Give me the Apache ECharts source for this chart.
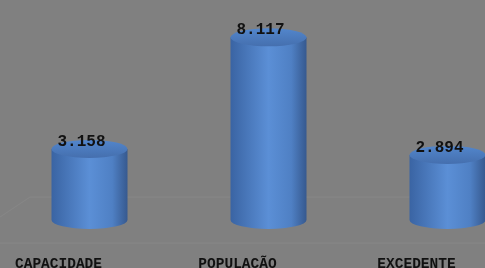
<!DOCTYPE html>
<html>
<head>
<meta charset="utf-8">
<script src="https://cdn.jsdelivr.net/npm/echarts@6/dist/echarts.min.js"></script>
<style>
  html, body { margin: 0; padding: 0; background: #808080; }
  #main { width: 485px; height: 268px; }
</style>
</head>
<body>
<div id="main"></div>
<script>
  const categories = ['CAPACIDADE', 'POPULAÇÃO', 'EXCEDENTE'];
  const values = [3.158, 8.117, 2.894];
  const valueLabels = ['3.158', '8.117', '2.894'];

  const myChart = echarts.init(document.getElementById('main'));

  // cylinder drawn from the axis coordinates of each value
  function renderCylinder(params, api) {
    const idx = api.value(0);
    const top = api.coord([idx, api.value(1)]);
    const base = api.coord([idx, 0]);
    const cx = top[0];
    const rx = 38, ry = 9;
    const l = cx - rx, r = cx + rx;
    const ty = top[1], by = base[1];

    return {
      type: 'group',
      children: [
        {
          type: 'path',
          shape: {
            pathData: 'M' + l + ' ' + ty + ' L' + l + ' ' + by +
              ' A' + rx + ' ' + ry + ' 0 0 0 ' + r + ' ' + by +
              ' L' + r + ' ' + ty + ' Z'
          },
          style: {
            fill: {
              type: 'linear', x: 0, y: 0, x2: 1, y2: 0,
              colorStops: [
                { offset: 0, color: '#3a64a3' },
                { offset: 0.5, color: '#5b8fd6' },
                { offset: 0.8, color: '#4f80c4' },
                { offset: 1, color: '#36598f' }
              ]
            }
          }
        },
        {
          type: 'path',
          shape: {
            pathData: 'M' + l + ' ' + ty +
              ' A' + rx + ' ' + ry + ' 0 0 1 ' + r + ' ' + ty +
              ' A' + rx + ' ' + ry + ' 0 0 1 ' + l + ' ' + ty + ' Z'
          },
          style: {
            fill: {
              type: 'linear', x: 0, y: 0, x2: 0, y2: 1,
              colorStops: [
                { offset: 0, color: '#5286cc' },
                { offset: 1, color: '#456fae' }
              ]
            }
          }
        },
        {
          type: 'text',
          style: {
            text: valueLabels[params.dataIndex],
            x: cx - 8,
            y: ty - 7,
            align: 'center',
            verticalAlign: 'middle',
            fill: '#111',
            font: 'bold 16px "Liberation Mono", "Courier New", monospace'
          }
        }
      ]
    };
  }

  const option = {
    backgroundColor: '#808080',
    animation: false,
    grid: { left: 0, right: -52, top: 17.5, bottom: 48, outerBoundsMode: 'none' },
    xAxis: {
      type: 'category',
      data: categories,
      axisLine: { show: false },
      axisTick: { show: false },
      axisLabel: {
        margin: 37,
        formatter: function (v) { return '{a|' + v + '}'; },
        rich: {
          a: {
            fontFamily: 'Liberation Mono',
            fontWeight: 'bold',
            fontSize: 14.5,
            color: '#111',
            padding: [0, 62, 0, 0]
          }
        }
      }
    },
    yAxis: { type: 'value', min: 0, max: 9, show: false },
    graphic: [
      { type: 'line', shape: { x1: 0, y1: 217, x2: 30, y2: 197 }, style: { stroke: '#878787', lineWidth: 1 } },
      { type: 'line', shape: { x1: 30, y1: 197, x2: 485, y2: 197 }, style: { stroke: '#878787', lineWidth: 1 } },
      { type: 'line', shape: { x1: 0, y1: 243, x2: 485, y2: 243 }, style: { stroke: '#878787', lineWidth: 1 } }
    ],
    series: [{
      type: 'custom',
      renderItem: renderCylinder,
      data: values.map(function (v, i) { return [i, v]; }),
      z: 10
    }]
  };

  myChart.setOption(option);
</script>
</body>
</html>
